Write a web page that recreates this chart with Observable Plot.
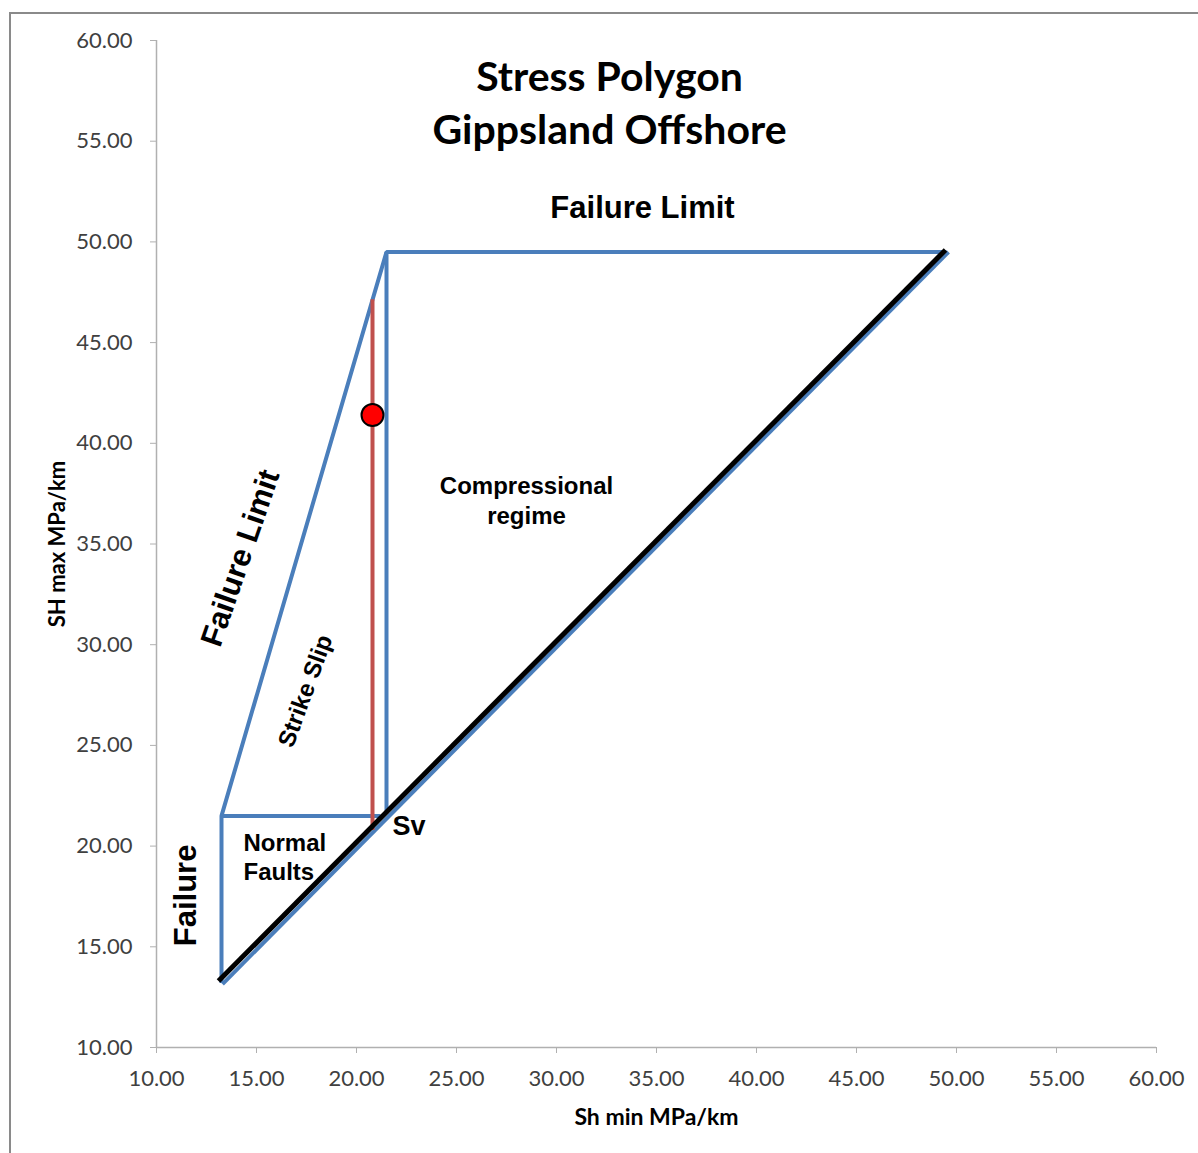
<!DOCTYPE html>
<html>
<head>
<meta charset="utf-8">
<script src="https://cdn.jsdelivr.net/npm/d3@7"></script>
<script src="https://cdn.jsdelivr.net/npm/@observablehq/plot@0.6"></script>
<style>
  html, body { margin: 0; padding: 0; background: #fff; }
  #wrap { position: relative; width: 1198px; height: 1153px; overflow: hidden; }
  #frame { position: absolute; left: 9px; top: 12px; width: 1200px; height: 1150px;
           border-left: 2px solid #8a8a8a; border-top: 2px solid #8a8a8a; box-sizing: border-box; }
  #chart { position: absolute; left: 0; top: 0; }
</style>
</head>
<body>
<div id="wrap"><div id="frame"></div><div id="chart"></div></div>
<script>
// ---- data ----
const xTicks = [10, 15, 20, 25, 30, 35, 40, 45, 50, 55, 60];
const yTicks = [10, 15, 20, 25, 30, 35, 40, 45, 50, 55, 60];

// blue stress polygon outline: left failure, strike-slip limit, top failure limit
const polyX = [13.25, 13.25, 21.5, 49.5];
const polyY = [13.2, 21.5, 49.5, 49.5];
// normal-fault top edge
const normalX = [13.25, 21.2];
const normalY = [21.5, 21.5];
// compressional left edge (SH = Sv boundary)
const compX = [21.5, 21.5];
const compY = [49.5, 21.7];
// blue diagonal (under Sv line)
const blueDiagX = [13.3, 49.6];
const blueDiagY = [13.15, 49.5];
// Sv line (black)
const svX = [13.1, 49.45];
const svY = [13.3, 49.6];
// red Sh min range
const redX = [20.8, 20.8];
const redY = [47.15, 20.8];
// red point
const ptX = [20.8];
const ptY = [41.4];

// annotations (text and anchor in data units)
const titleLines = ["Stress Polygon", "Gippsland Offshore"];
const titleX = [32.65, 32.65];
const titleY = [58.15, 55.5];
const annText = ["Failure Limit", "Failure Limit", "Strike Slip", "Compressional", "regime", "Normal", "Faults", "Sv", "Failure"];
const annX =    [34.3,            14.2,            17.45,          28.5,            28.5,     14.35,    14.35,    21.8,  11.5];
const annY =    [51.66,           34.3,            27.7,           37.86,           36.37,    20.13,    18.69,    20.97, 17.55];

const xLabel = "Sh min MPa/km";
const yLabel = "SH max MPa/km";

const BLUE = "#4a7ebb", RED = "#c0504d", AX = "#b0b0b0", TXT = "#404040";
const ARIAL = "'Liberation Sans', Arial, sans-serif";
const CAL = "Lato, 'Open Sans', sans-serif";

const line = (X, Y, opts) => Plot.line(X.map((x, i) => [x, Y[i]]), {x: d => d[0], y: d => d[1], ...opts});
const ann = (i, opts) => Plot.text([i], {x: d => annX[d], y: d => annY[d], text: d => annText[d],
  fontFamily: ARIAL, fontWeight: "bold", fill: "#000", ...opts});

const chart = Plot.plot({
  width: 1198, height: 1153,
  marginLeft: 156, marginRight: 42, marginTop: 40, marginBottom: 106,
  x: {domain: [10, 60]},
  y: {domain: [10, 60]},
  style: {fontFamily: CAL, background: "transparent", overflow: "visible"},
  marks: [
    Plot.ruleX([10], {stroke: AX, strokeWidth: 1.5}),
    Plot.ruleY([10], {stroke: AX, strokeWidth: 1.5}),
    Plot.axisX({ticks: xTicks, tickFormat: d3.format(".2f"), tickSize: 6, tickPadding: 17,
      fontSize: 22, stroke: AX, fill: TXT, label: null}),
    Plot.axisY({ticks: yTicks, tickFormat: d3.format(".2f"), tickSize: 6, tickPadding: 18,
      fontSize: 22, stroke: AX, fill: TXT, label: null}),
    Plot.text([xLabel], {frameAnchor: "bottom", textAnchor: "middle", dy: 77, fontWeight: "bold", fontSize: 23, fill: "#000", fontFamily: CAL}),
    Plot.text([yLabel], {frameAnchor: "left", textAnchor: "middle", lineAnchor: "middle", dx: -99, rotate: -90, fontWeight: "bold", fontSize: 22, fill: "#000", fontFamily: CAL}),

    line(blueDiagX, blueDiagY, {stroke: BLUE, strokeWidth: 4, strokeLinecap: "butt"}),
    line(polyX, polyY, {stroke: BLUE, strokeWidth: 4, strokeLinejoin: "miter", strokeLinecap: "butt"}),
    line(normalX, normalY, {stroke: BLUE, strokeWidth: 4, strokeLinecap: "butt"}),
    line(compX, compY, {stroke: BLUE, strokeWidth: 4, strokeLinecap: "butt"}),
    line(redX, redY, {stroke: RED, strokeWidth: 4, strokeLinecap: "butt"}),
    line(svX, svY, {stroke: "#000", strokeWidth: 5, strokeLinecap: "butt"}),
    Plot.dot(ptX.map((x, i) => [x, ptY[i]]), {x: d => d[0], y: d => d[1], r: 11, fill: "#ff0000", stroke: "#000", strokeWidth: 2}),

    Plot.text([0, 1], {x: d => titleX[d], y: d => titleY[d], text: d => titleLines[d],
      fontFamily: CAL, fontWeight: "bold", fontSize: 41, fill: "#000"}),
    ann(0, {fontSize: 31}),
    ann(1, {fontSize: 31, rotate: -71}),
    ann(2, {fontSize: 24, rotate: -70}),
    ann(3, {fontSize: 24}),
    ann(4, {fontSize: 24}),
    ann(5, {fontSize: 24, textAnchor: "start"}),
    ann(6, {fontSize: 24, textAnchor: "start"}),
    ann(7, {fontSize: 27, textAnchor: "start"}),
    ann(8, {fontSize: 31, rotate: -90})
  ]
});
document.getElementById("chart").appendChild(chart);
</script>
</body>
</html>
